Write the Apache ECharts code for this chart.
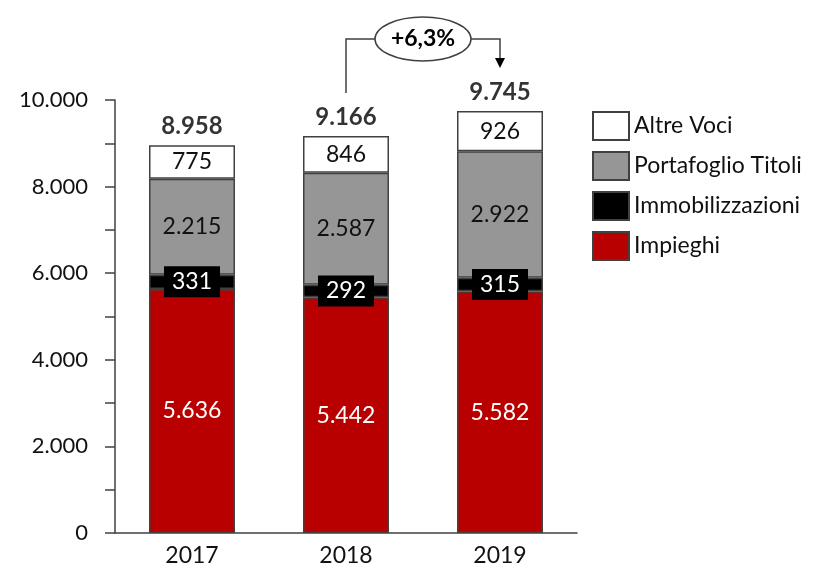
<!DOCTYPE html>
<html>
<head>
<meta charset="utf-8">
<script src="https://cdn.jsdelivr.net/npm/echarts@6/dist/echarts.min.js"></script>
<style>
  html, body { margin: 0; padding: 0; background: #fff; }
  #chart { width: 815px; height: 570px; }
</style>
</head>
<body>
<div id="chart"></div>
<script>
// dati (milioni di euro)
var anni = ['2017', '2018', '2019'];
var impieghi = [5636, 5442, 5582];
var immobilizzazioni = [331, 292, 315];
var portafoglio = [2215, 2587, 2922];
var altreVoci = [775, 846, 926];
var totali = [8958, 9166, 9745];
var crescita = '+6,3%';

var FONT = 'Lato, "Noto Sans", sans-serif';

// formato italiano: 8958 -> 8.958
function fmt (v) {
  return String(v).replace(/\B(?=(\d{3})+(?!\d))/g, '.');
}

var myChart = echarts.init(document.getElementById('chart'));

var bordo = { borderColor: '#404040', borderWidth: 1.5 };

function serie (name, data, color, label) {
  return {
    name: name,
    type: 'bar',
    stack: 'tot',
    barWidth: 86,
    data: data,
    itemStyle: Object.assign({ color: color }, bordo),
    label: Object.assign({
      show: true,
      position: 'inside',
      fontFamily: FONT,
      fontSize: 23,
      formatter: function (p) { return fmt(p.value) }
    }, label),
    silent: true
  }
}

var option = {
  animation: false,
  textStyle: { fontFamily: FONT },
  grid: { left: 115, right: 238, top: 100, bottom: 37 },
  legend: {
    orient: 'vertical',
    left: 587,
    top: 106,
    itemWidth: 36,
    itemHeight: 28,
    itemGap: 10,
    icon: 'rect',
    data: ['Altre Voci', 'Portafoglio Titoli', 'Immobilizzazioni', 'Impieghi'],
    textStyle: { fontFamily: FONT, fontSize: 23, lineHeight: 28, color: '#111' },
    selectedMode: false
  },
  xAxis: {
    type: 'category',
    data: anni,
    axisLine: { lineStyle: { color: '#404040', width: 1.5 } },
    axisTick: { show: false },
    axisLabel: { fontFamily: FONT, fontSize: 23, color: '#111', margin: 11 }
  },
  yAxis: {
    type: 'value',
    min: 0,
    max: 10000,
    interval: 1000,
    splitLine: { show: false },
    axisLine: { show: true, lineStyle: { color: '#404040', width: 1.5 } },
    axisTick: { show: true, length: 10, lineStyle: { color: '#404040', width: 1.5 } },
    axisLabel: {
      fontFamily: FONT,
      fontSize: 22,
      color: '#111',
      margin: 27,
      formatter: function (v) { return v % 2000 === 0 ? fmt(v) : '' }
    }
  },
  series: [
    serie('Impieghi', impieghi, '#b80000', { color: '#fff' }),
    serie('Immobilizzazioni', immobilizzazioni, '#000', {
      color: '#fff', backgroundColor: '#000', padding: [4, 8]
    }),
    serie('Portafoglio Titoli', portafoglio, '#969696', { color: '#111' }),
    serie('Altre Voci', altreVoci, '#fff', { color: '#111' }),
    {
      name: 'Totale',
      type: 'scatter',
      symbolSize: 0,
      data: totali,
      silent: true,
      label: {
        show: true,
        position: 'top',
        distance: 7,
        fontFamily: FONT,
        fontSize: 24,
        fontWeight: 'bold',
        color: '#000',
        formatter: function (p) { return fmt(p.value) }
      }
    }
  ]
};

myChart.setOption(option);

// freccia +6,3% tra 2018 e 2019
var p18 = myChart.convertToPixel({ xAxisIndex: 0, yAxisIndex: 0 }, [1, totali[1]]);
var p19 = myChart.convertToPixel({ xAxisIndex: 0, yAxisIndex: 0 }, [2, totali[2]]);
var yTop = 39;
var cx = (p18[0] + p19[0]) / 2;
var rx = 48, ry = 22;
var linea = { stroke: '#404040', lineWidth: 1.5, fill: null };

myChart.setOption({
  graphic: [
    { type: 'polyline', shape: { points: [[p18[0], p18[1] - 43], [p18[0], yTop], [cx - rx, yTop]] }, style: linea, silent: true },
    { type: 'polyline', shape: { points: [[cx + rx, yTop], [p19[0], yTop], [p19[0], p19[1] - 53]] }, style: linea, silent: true },
    { type: 'polygon', shape: { points: [[p19[0] - 5, p19[1] - 53], [p19[0] + 5, p19[1] - 53], [p19[0], p19[1] - 43]] }, style: { fill: '#000' }, silent: true },
    { type: 'ellipse', shape: { cx: cx, cy: yTop, rx: rx, ry: ry }, style: { fill: '#fff', stroke: '#404040', lineWidth: 1.5 }, silent: true },
    { type: 'text', x: cx, y: yTop, style: { text: crescita, fontFamily: FONT, fontSize: 23, fontWeight: 'bold', fill: '#000', align: 'center', verticalAlign: 'middle' }, silent: true }
  ]
});
</script>
</body>
</html>
